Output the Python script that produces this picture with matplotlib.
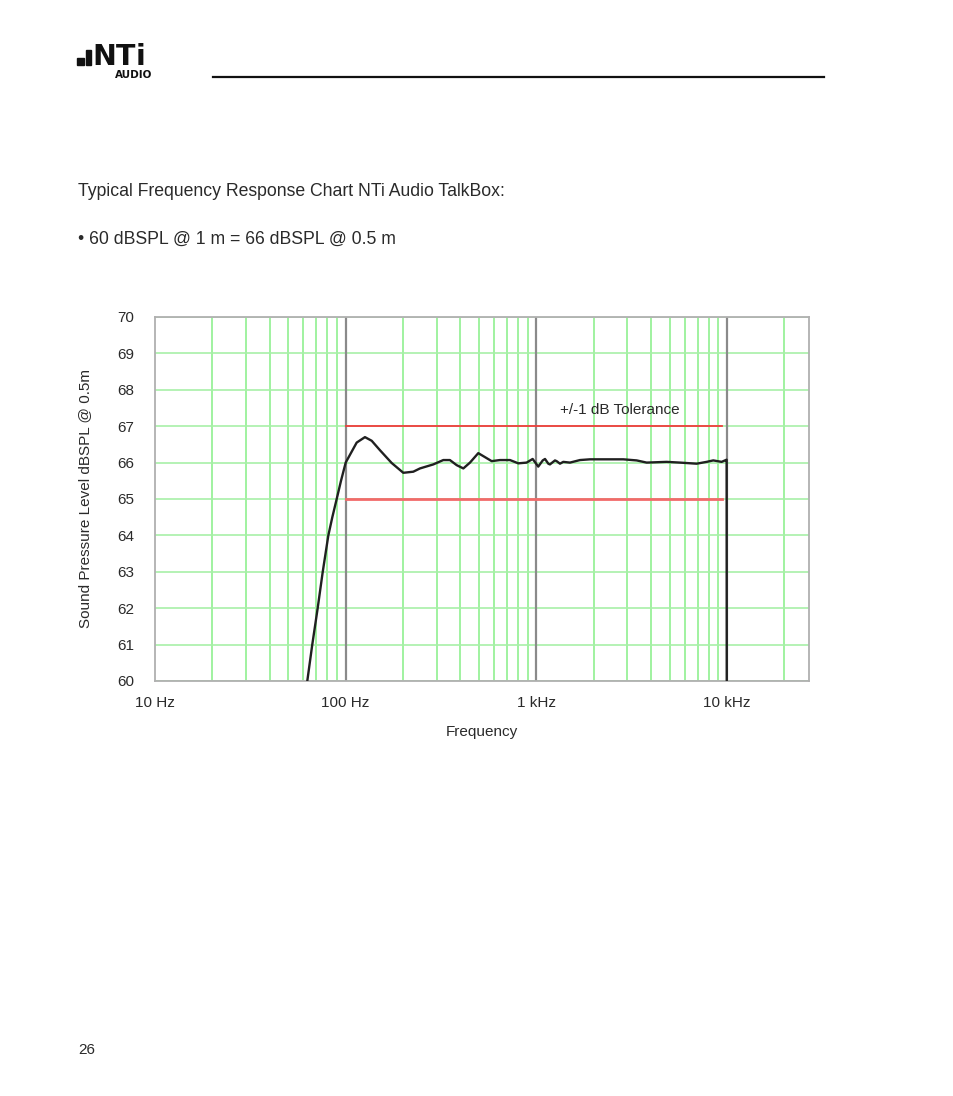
import matplotlib
matplotlib.use("Agg")
import matplotlib.pyplot as plt
from matplotlib.patches import Rectangle

plt.rcParams['font.family'] = ['Liberation Sans', 'DejaVu Sans']

# ---- data ----
freq_hz = [62.9, 66.8, 71.3, 75.8, 81.1, 85.1, 89.7, 94.5, 100, 107.5, 114.2, 126.2,
           136.9, 151.3, 174.2, 200.5, 208.9, 226.2, 245.3, 288, 325, 352, 382, 414,
           448.6, 495.8, 537.7, 583, 644, 727, 804, 889, 956, 1023, 1080, 1110, 1155,
           1178, 1252, 1277, 1330, 1384, 1500, 1693, 1910, 2856, 3357, 3788, 4822, 5662,
           6924, 7813, 8465, 9369, 9750, 9950, 9990]
level_db = [60.0, 61.0, 62.0, 63.0, 64.0, 64.5, 65.0, 65.5, 66.0, 66.30, 66.55, 66.70,
            66.60, 66.34, 65.99, 65.72, 65.73, 65.75, 65.84, 65.95, 66.07, 66.07, 65.93,
            65.84, 66.00, 66.26, 66.15, 66.04, 66.07, 66.07, 65.98, 66.00, 66.10, 65.89,
            66.06, 66.10, 65.97, 65.95, 66.06, 66.04, 65.97, 66.02, 66.00, 66.07, 66.09,
            66.09, 66.06, 66.00, 66.02, 66.00, 65.97, 66.02, 66.06, 66.02, 66.06, 66.08,
            50.0]
tol_freq = [100, 9450]
tol_upper = [67, 67]
tol_lower = [65, 65]
xtick_vals = [10, 100, 1000, 10000]
xtick_labels = ["10 Hz", "100 Hz", "1 kHz", "10 kHz"]
ytick_vals = list(range(60, 71))
minor_grid = [20, 30, 40, 50, 60, 70, 80, 90, 200, 300, 400, 500, 600, 700, 800, 900,
              2000, 3000, 4000, 5000, 6000, 7000, 8000, 9000, 20000]

W, H = 954, 1096
fig = plt.figure(figsize=(W / 100, H / 100), dpi=100)
txt = '#2a2a2a'

ax = fig.add_axes([155 / W, 1 - 681 / H, (809 - 155) / W, (681 - 317) / H])
ax.set_xscale('log')
ax.set_xlim(10, 26900)
ax.set_ylim(60, 70)

for f in minor_grid:
    ax.axvline(f, color='#90f090', lw=1.2, zorder=1)
for y in ytick_vals:
    ax.axhline(y, color='#a8f0a8', lw=1.2, zorder=1)
for f in [100, 1000, 10000]:
    ax.axvline(f, color='#8a8a8a', lw=1.6, zorder=2)

ax.plot(tol_freq, tol_upper, color='#f03c3c', lw=1.3, zorder=3)
ax.plot(tol_freq, tol_lower, color='#f26a6a', lw=2.0, zorder=3)
ax.plot(freq_hz, level_db, color='#202020', lw=1.7, zorder=4,
        solid_joinstyle='round', solid_capstyle='round')

ax.text(1330, 67.44, "+/-1 dB Tolerance", fontsize=11, color=txt, ha='left', va='center')

ax.set_xticks(xtick_vals)
ax.set_xticklabels(xtick_labels)
ax.set_xticks([], minor=True)
ax.set_yticks(ytick_vals)
ax.set_yticklabels([str(v) for v in ytick_vals])
ax.tick_params(axis='both', length=0, labelsize=11, colors=txt)
ax.tick_params(axis='y', pad=15)
ax.tick_params(axis='x', pad=10.5)
for s in ax.spines.values():
    s.set_color('#b0b0b0')
    s.set_linewidth(1.3)

ax.set_xlabel("Frequency", fontsize=11, color=txt, labelpad=11)
ax.set_ylabel("Sound Pressure Level dBSPL @ 0.5m", fontsize=11, color=txt, labelpad=18)

# ---- page header / text ----
fig.add_artist(Rectangle((77 / W, 1 - 65 / H), 7 / W, 7 / H, color='#111111',
                         transform=fig.transFigure))
fig.add_artist(Rectangle((86 / W, 1 - 65 / H), 5 / W, 15 / H, color='#111111',
                         transform=fig.transFigure))
logo_font = dict(family='DejaVu Sans', fontweight='bold', color='#111111', fontsize=20.5,
                 ha='left', va='baseline')
fig.text(92 / W, 1 - 65 / H, "N", **logo_font)
fig.text(116 / W, 1 - 65 / H, "T", **logo_font)
fig.text(136 / W, 1 - 65 / H, "i", **logo_font)
fig.text(152 / W, 1 - 77.5 / H, "AUDIO", family='DejaVu Sans', fontsize=7.5,
         fontweight='bold', color='#111111', ha='right', va='baseline')
fig.add_artist(plt.Line2D([213 / W, 824 / W], [1 - 77 / H, 1 - 77 / H], color='#111111',
                          lw=1.6, transform=fig.transFigure))

fig.text(78 / W, 1 - 191 / H, "Typical Frequency Response Chart NTi Audio TalkBox:",
         fontsize=12.7, color=txt, ha='left', va='center')
fig.text(78 / W, 1 - 239 / H, "\u2022 60 dBSPL @ 1 m = 66 dBSPL @ 0.5 m",
         fontsize=12.7, color=txt, ha='left', va='center')
fig.text(78 / W, 1 - 1050 / H, "26", fontsize=11, color=txt, ha='left', va='center')

fig.savefig("out.png", dpi=100, facecolor='white')
